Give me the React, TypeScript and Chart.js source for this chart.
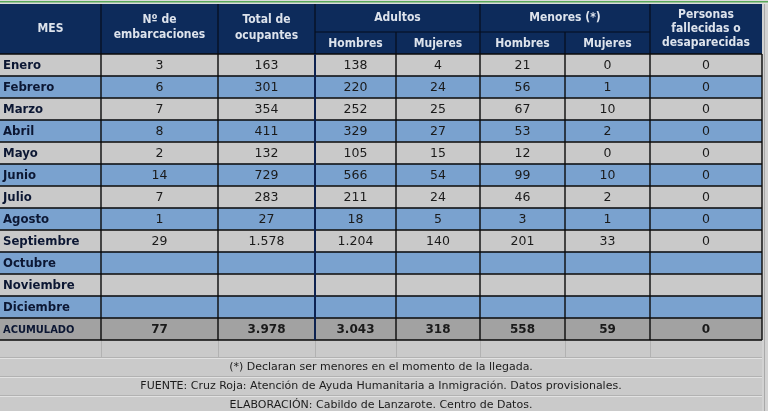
import React, { useEffect, useRef } from 'react';
import { Chart, registerables } from 'chart.js';

Chart.register(...registerables);

const months = ['Enero', 'Febrero', 'Marzo', 'Abril', 'Mayo', 'Junio', 'Julio', 'Agosto', 'Septiembre', 'Octubre', 'Noviembre', 'Diciembre'];
const totalLabel = 'ACUMULADO';
const embarcaciones = [3, 6, 7, 8, 2, 14, 7, 1, 29, null, null, null];
const ocupantes = [163, 301, 354, 411, 132, 729, 283, 27, 1578, null, null, null];
const adultosHombres = [138, 220, 252, 329, 105, 566, 211, 18, 1204, null, null, null];
const adultosMujeres = [4, 24, 25, 27, 15, 54, 24, 5, 140, null, null, null];
const menoresHombres = [21, 56, 67, 53, 12, 99, 46, 3, 201, null, null, null];
const menoresMujeres = [0, 1, 10, 2, 0, 10, 2, 1, 33, null, null, null];
const fallecidos = [0, 0, 0, 0, 0, 0, 0, 0, 0, null, null, null];
const acumulado = [77, 3978, 3043, 318, 558, 59, 0];

const footnotes = [
  '(*) Declaran ser menores en el momento de la llegada.',
  'FUENTE: Cruz Roja: Atención de Ayuda Humanitaria a Inmigración. Datos provisionales.',
  'ELABORACIÓN: Cabildo de Lanzarote. Centro de Datos.',
];

// ---- Layout (not data) ----
const COL_WIDTHS = [101, 117, 97, 81, 84, 85, 85, 112];
const HEADER_H = 50;
const FOOTER_H = 71;
const NAVY = '#0d2b5b';
const ROW_GRAY = '#c9c9c9';
const ROW_BLUE = '#7aa2cf';
const ROW_TOTAL = '#a2a2a2';
const SHEET_BG = '#cacaca';
const HEADER_TXT = '#dde3ec';
const FONT_C = "'DejaVu Sans Condensed', 'DejaVu Sans', sans-serif";
const FONT = "'DejaVu Sans', sans-serif";

const series = [embarcaciones, ocupantes, adultosHombres, adultosMujeres, menoresHombres, menoresMujeres, fallecidos];
const rowLabels = [...months, totalLabel];

function fmt(v: number | null | undefined): string {
  if (v === null || v === undefined) return '';
  return String(v).replace(/\B(?=(\d{3})+(?!\d))/g, '.');
}

function rowColor(i: number): string {
  if (i === rowLabels.length - 1) return ROW_TOTAL;
  return i % 2 === 1 ? ROW_BLUE : ROW_GRAY;
}

function bounds(chart: any): number[] {
  const out: number[] = [chart.getDatasetMeta(0).data[0].base];
  for (let j = 0; j < COL_WIDTHS.length; j++) out.push(chart.getDatasetMeta(j).data[0].x);
  return out;
}

const tablePlugin = {
  id: 'tablePlugin',
  beforeDraw(chart: any) {
    const { ctx, chartArea, width, height } = chart;
    const b = bounds(chart);
    const right = b[b.length - 1];
    ctx.save();
    ctx.fillStyle = SHEET_BG;
    ctx.fillRect(0, 0, width, height);
    // top strip
    ctx.fillStyle = '#dcdcdc';
    ctx.fillRect(0, 0, width, chartArea.top - HEADER_H);
    ctx.fillStyle = '#5aa85a';
    ctx.fillRect(0, 1, width, 1.5);
    // right margin strip
    ctx.fillStyle = '#d2d2d2';
    ctx.fillRect(right, chartArea.top - HEADER_H, width - right, height);
    ctx.fillStyle = '#a9a9a9';
    ctx.fillRect(right + 2, chartArea.top - HEADER_H, 1, height);

    // header
    const hTop = chartArea.top - HEADER_H;
    const hBot = chartArea.top;
    const sub = hBot - 22;
    ctx.fillStyle = NAVY;
    ctx.fillRect(b[0], hTop, right - b[0], HEADER_H);
    ctx.strokeStyle = '#050d1c';
    ctx.lineWidth = 1.2;
    ctx.beginPath();
    [1, 2, 3, 5, 7].forEach((k) => { ctx.moveTo(b[k], hTop); ctx.lineTo(b[k], hBot); });
    [4, 6].forEach((k) => { ctx.moveTo(b[k], sub); ctx.lineTo(b[k], hBot); });
    ctx.moveTo(b[3], sub); ctx.lineTo(b[7], sub);
    ctx.stroke();

    ctx.fillStyle = HEADER_TXT;
    ctx.font = `bold 12px ${FONT_C}`;
    ctx.textAlign = 'center';
    ctx.textBaseline = 'middle';
    const cx = (k: number, n = 1) => (b[k] + b[k + n]) / 2;
    ctx.fillText('MES', cx(0), hTop + 25);
    ctx.fillText('Nº de', cx(1), hTop + 16);
    ctx.fillText('embarcaciones', cx(1), hTop + 31);
    ctx.fillText('Total de', cx(2), hTop + 16);
    ctx.fillText('ocupantes', cx(2), hTop + 32);
    ctx.fillText('Adultos', cx(3, 2), hTop + 14);
    ctx.fillText('Menores (*)', cx(5, 2), hTop + 14);
    ['Hombres', 'Mujeres', 'Hombres', 'Mujeres'].forEach((t, k) => ctx.fillText(t, cx(3 + k), hTop + 40));
    ctx.fillText('Personas', cx(7), hTop + 11);
    ctx.fillText('fallecidas o', cx(7), hTop + 25);
    ctx.fillText('desaparecidas', cx(7), hTop + 39);

    // footer sheet grid
    const fTop = chartArea.bottom;
    ctx.fillStyle = '#b2b2b2';
    [17, 36, 55].forEach((dy) => ctx.fillRect(0, fTop + dy, right, 1));
    for (let k = 1; k < b.length - 1; k++) ctx.fillRect(Math.round(b[k]), fTop, 1, 17);
    ctx.fillStyle = '#e2e2e2';
    [18, 37, 56].forEach((dy) => ctx.fillRect(0, fTop + dy, right, 1));

    ctx.fillStyle = '#1c1c1c';
    ctx.font = `11px ${FONT}`;
    const mid = (b[0] + right) / 2;
    footnotes.forEach((t, k) => ctx.fillText(t, mid, fTop + 27 + k * 19));
    ctx.restore();
  },
  afterDatasetsDraw(chart: any) {
    const { ctx } = chart;
    const b = bounds(chart);
    const bars = chart.getDatasetMeta(0).data;
    ctx.save();
    // grid lines
    ctx.strokeStyle = '#0a0a0a';
    ctx.lineWidth = 1.4;
    ctx.beginPath();
    bars.forEach((bar: any) => {
      const yb = bar.y + bar.height / 2;
      ctx.moveTo(b[0], yb); ctx.lineTo(b[b.length - 1], yb);
    });
    const top = bars[0].y - bars[0].height / 2;
    const bot = bars[bars.length - 1].y + bars[bars.length - 1].height / 2;
    ctx.moveTo(b[0], top); ctx.lineTo(b[b.length - 1], top);
    for (let k = 1; k < b.length; k++) { ctx.moveTo(b[k], top); ctx.lineTo(b[k], bot); }
    ctx.stroke();
    ctx.strokeStyle = '#0d2250';
    ctx.lineWidth = 2;
    ctx.beginPath();
    ctx.moveTo(b[3], top); ctx.lineTo(b[3], bot);
    ctx.stroke();

    // texts
    ctx.textBaseline = 'middle';
    const last = rowLabels.length - 1;
    bars.forEach((bar: any, i: number) => {
      const y = bar.y + 1;
      ctx.textAlign = 'left';
      ctx.fillStyle = '#0c1733';
      ctx.font = i === last ? `bold 11px ${FONT_C}` : `bold 13px ${FONT_C}`;
      ctx.fillText(rowLabels[i], b[0] + 3, y);
      ctx.textAlign = 'center';
      ctx.fillStyle = '#1a1a1a';
      ctx.font = i === last ? `bold 12px ${FONT}` : `12.5px ${FONT}`;
      for (let j = 1; j < COL_WIDTHS.length; j++) {
        const el = chart.getDatasetMeta(j).data[i];
        const v = i === last ? acumulado[j - 1] : series[j - 1][i];
        ctx.fillText(fmt(v), (el.x + el.base) / 2, y);
      }
    });
    ctx.restore();
  },
};

export default function App() {
  const ref = useRef<HTMLCanvasElement | null>(null);
  useEffect(() => {
    if (!ref.current) return;
    const chart = new Chart(ref.current, {
      type: 'bar',
      data: {
        labels: rowLabels,
        datasets: COL_WIDTHS.map((w, j) => ({
          label: `col${j}`,
          data: rowLabels.map(() => w),
          backgroundColor: (c: any) => rowColor(c.dataIndex),
          borderWidth: 0,
          barPercentage: 1,
          categoryPercentage: 1,
        })),
      },
      options: {
        indexAxis: 'y',
        animation: false,
        responsive: false,
        devicePixelRatio: 1,
        layout: { padding: { top: 4 + HEADER_H, bottom: FOOTER_H, left: 0, right: 768 - 762 } },
        plugins: { legend: { display: false }, tooltip: { enabled: false } },
        events: [],
        scales: {
          x: { stacked: true, display: false, min: 0, max: COL_WIDTHS.reduce((a, c) => a + c, 0) },
          y: { stacked: true, display: false },
        },
      },
      plugins: [tablePlugin],
    } as any);
    return () => chart.destroy();
  }, []);
  return (
    <div style={{ position: 'fixed', left: 0, top: 0, width: 768, height: 411, margin: 0 }}>
      <canvas ref={ref} width={768} height={411} style={{ display: 'block', width: 768, height: 411 }} />
    </div>
  );
}
